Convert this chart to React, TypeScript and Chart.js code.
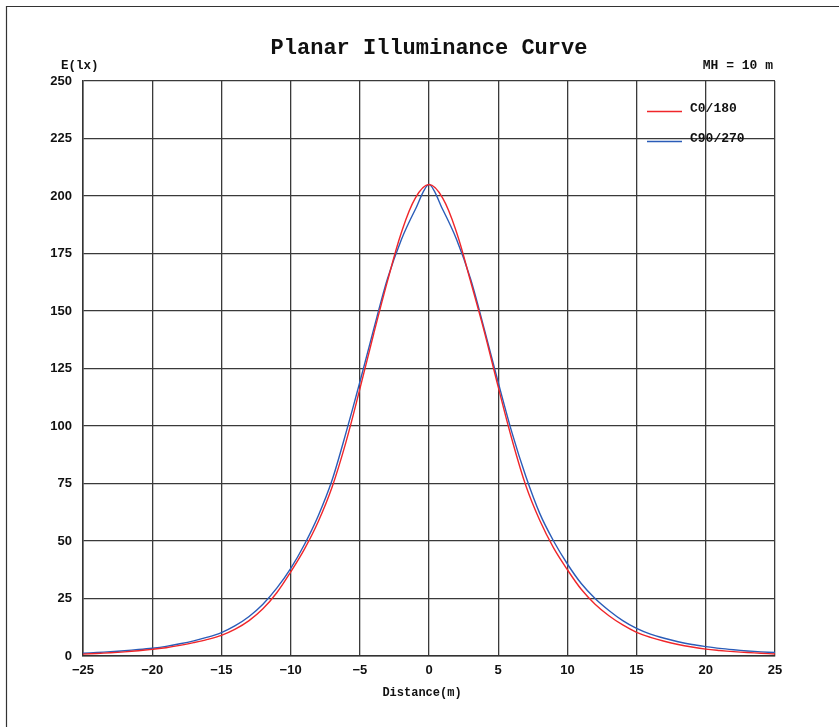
import { useEffect, useRef } from "react";
import { Chart, registerables } from "chart.js";

Chart.register(...registerables);

const distances = [
  -25, -24, -23, -22, -21, -20, -19, -18, -17, -16, -15, -14, -13, -12, -11, -10, -9, -8, -7, -6, -5, -4, -3, -2, -1,
  0, 1, 2, 3, 4, 5, 6, 7, 8, 9, 10, 11, 12, 13, 14, 15, 16, 17, 18, 19, 20, 21, 22, 23, 24, 25,
];

const c0_180 = [
  0.8, 1.1, 1.4, 1.8, 2.3, 2.9, 3.6, 4.6, 5.8, 7.2, 9.0, 11.7, 15.4, 20.5, 27.5, 36.5, 46.5, 58.5, 73.5, 93, 116, 140, 163, 184, 199,
  205, 199, 184, 163, 141, 117, 94, 74, 59, 47, 37.5, 29, 22.5, 17.5, 13.5, 10.3, 8.1, 6.4, 5.0, 3.9, 3.0, 2.4, 1.9, 1.5, 1.2, 0.9,
];

const c90_270 = [
  1.2, 1.5, 1.9, 2.3, 2.8, 3.4, 4.2, 5.3, 6.6, 8.2, 10.2, 13.2, 17.2, 22.5, 29.5, 38, 48.5, 61, 76.5, 97, 119, 142, 164, 181, 194,
  205, 194, 181, 164, 142, 119, 97, 78, 62, 50, 40, 31.5, 25, 19.8, 15.4, 12.0, 9.5, 7.7, 6.2, 5.0, 4.1, 3.3, 2.7, 2.2, 1.8, 1.5,
];

const seriesLabels = ["C0/180", "C90/270"];
const seriesColors = ["#f0262a", "#2a5cb8"];

const titleText = "Planar Illuminance Curve";
const yAxisTitle = "E(lx)";
const xAxisTitle = "Distance(m)";
const mountingHeight = "MH = 10 m";

const xMin = -25;
const xMax = 25;
const xStep = 5;
const yMin = 0;
const yMax = 250;
const yStep = 25;

const MONO = '"Liberation Mono", "DejaVu Sans Mono", monospace';
const SANS = '"Liberation Sans", Arial, sans-serif';

export default function App() {
  const canvasRef = useRef<HTMLCanvasElement | null>(null);

  useEffect(() => {
    document.body.style.margin = "0";
    const canvas = canvasRef.current;
    if (!canvas) return;

    const decor = {
      id: "decor",
      afterDraw(chart: any) {
        const ctx = chart.ctx as CanvasRenderingContext2D;
        const area = chart.chartArea;
        ctx.save();
        // frame
        ctx.strokeStyle = "#333";
        ctx.lineWidth = 1.2;
        ctx.beginPath();
        ctx.moveTo(6.5, 727);
        ctx.lineTo(6.5, 6.5);
        ctx.lineTo(839, 6.5);
        ctx.stroke();

        ctx.fillStyle = "#111";
        ctx.textBaseline = "middle";
        // title
        ctx.font = `bold 22px ${MONO}`;
        ctx.textAlign = "center";
        ctx.fillText(titleText, (area.left + area.right) / 2, 48);
        // axis titles
        ctx.font = `bold 12.5px ${MONO}`;
        ctx.textAlign = "left";
        ctx.fillText(yAxisTitle, 61, 66);
        ctx.font = `bold 13px ${MONO}`;
        ctx.textAlign = "right";
        ctx.fillText(mountingHeight, 773, 66);
        ctx.font = `bold 12px ${MONO}`;
        ctx.textAlign = "center";
        ctx.fillText(xAxisTitle, 422, 693);

        // legend
        ctx.font = `bold 13px ${MONO}`;
        ctx.textAlign = "left";
        const ys = [111, 141];
        chart.data.datasets.forEach((ds: any, i: number) => {
          ctx.strokeStyle = ds.borderColor;
          ctx.lineWidth = 1.3;
          ctx.beginPath();
          ctx.moveTo(647, ys[i] + 0.5);
          ctx.lineTo(682, ys[i] + 0.5);
          ctx.stroke();
          ctx.fillStyle = "#111";
          ctx.fillText(ds.label, 690, ys[i] - 2);
        });
        ctx.restore();
      },
    };

    const chart = new Chart(canvas, {
      type: "line",
      data: {
        labels: distances,
        datasets: [
          {
            label: seriesLabels[0],
            data: distances.map((d, i) => ({ x: d, y: c0_180[i] })),
            borderColor: seriesColors[0],
            borderWidth: 1.4,
            pointRadius: 0,
            tension: 0.35,
            fill: false,
          },
          {
            label: seriesLabels[1],
            data: distances.map((d, i) => ({ x: d, y: c90_270[i] })),
            borderColor: seriesColors[1],
            borderWidth: 1.4,
            pointRadius: 0,
            tension: 0.3,
            fill: false,
          },
        ],
      },
      plugins: [decor],
      options: {
        animation: false,
        responsive: false,
        devicePixelRatio: 1,
        layout: { padding: { left: 0, top: 81, right: 64, bottom: 0 } },
        plugins: {
          legend: { display: false },
          title: { display: false },
          tooltip: { enabled: false },
        },
        scales: {
          x: {
            type: "linear",
            min: xMin,
            max: xMax,
            afterFit(scale: any) {
              scale.height = 71;
            },
            afterBuildTicks(scale: any) {
              const t = [];
              for (let v = xMin; v <= xMax; v += xStep) t.push({ value: v });
              scale.ticks = t;
            },
            ticks: {
              stepSize: xStep,
              padding: 7,
              color: "#111",
              font: { family: SANS, size: 13, weight: "bold" },
              maxRotation: 0,
              callback: (v: any) => (Number(v) < 0 ? "\u2212" + Math.abs(Number(v)) : String(v)),
            },
            grid: { color: "#3a3a3a", lineWidth: 1.3, drawTicks: false },
            border: { color: "#333", width: 1.5 },
          },
          y: {
            type: "linear",
            min: yMin,
            max: yMax,
            afterFit(scale: any) {
              scale.width = 83;
            },
            ticks: {
              stepSize: yStep,
              padding: 11,
              color: "#111",
              font: { family: SANS, size: 13, weight: "bold" },
            },
            grid: { color: "#3a3a3a", lineWidth: 1.3, drawTicks: false },
            border: { color: "#333", width: 1.5 },
          },
        },
      },
    } as any);

    return () => chart.destroy();
  }, []);

  return (
    <div style={{ width: 839, height: 727, background: "#fff" }}>
      <canvas ref={canvasRef} width={839} height={727} style={{ display: "block" }} />
    </div>
  );
}
